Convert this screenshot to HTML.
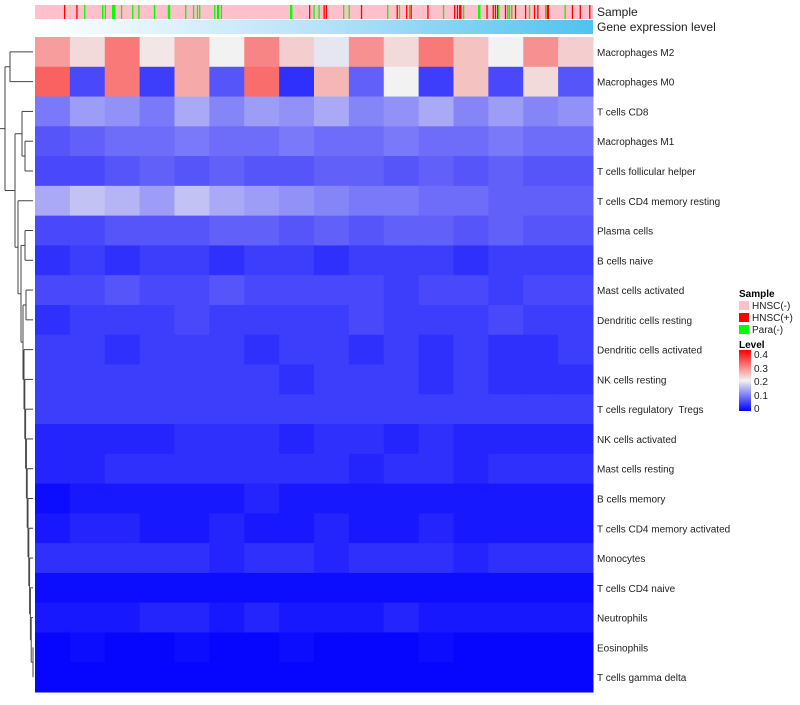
<!DOCTYPE html>
<html><head><meta charset="utf-8"><style>
body{margin:0;background:#fff;font-family:"Liberation Sans",sans-serif;}
svg text{font-family:"Liberation Sans",sans-serif;white-space:pre;}
</style></head><body>
<svg id="chart" width="800" height="700" xmlns="http://www.w3.org/2000/svg">
<defs>
<linearGradient id="geneGrad" x1="0" x2="1" y1="0" y2="0"><stop offset="0" stop-color="#ffffff"/><stop offset="0.5" stop-color="#b9e3f8"/><stop offset="1" stop-color="#4fc3f0"/></linearGradient>
<linearGradient id="levelGrad" x1="0" x2="0" y1="1" y2="0"><stop offset="0" stop-color="#0000ff"/><stop offset="0.5" stop-color="#f2f2f2"/><stop offset="1" stop-color="#ff0000"/></linearGradient>
</defs>
<g id="dendro"></g>
<g id="cells"></g>
<g id="sampleBar"></g>
<rect x="35" y="20" width="558" height="14" fill="url(#geneGrad)"/>
<text x="597" y="16" font-size="12" fill="#222">Sample</text>
<text x="597" y="31" font-size="12" fill="#222">Gene expression level</text>
<g id="labels"></g>
<g>
<text x="739" y="297" font-size="10" font-weight="bold" fill="#000">Sample</text>
<rect x="739" y="301" width="10" height="9" fill="#ffc0cb"/>
<text x="752" y="309" font-size="10" fill="#222">HNSC(-)</text>
<rect x="739" y="313" width="10" height="9" fill="#ff0000"/>
<text x="752" y="321" font-size="10" fill="#222">HNSC(+)</text>
<rect x="739" y="325" width="10" height="9" fill="#00ff00"/>
<text x="752" y="333" font-size="10" fill="#222">Para(-)</text>
<text x="739" y="348" font-size="10" font-weight="bold" fill="#000">Level</text>
<rect x="739" y="350" width="12" height="61" fill="url(#levelGrad)"/>
<text x="754" y="358" font-size="10" fill="#222">0.4</text>
<text x="754" y="372" font-size="10" fill="#222">0.3</text>
<text x="754" y="385" font-size="10" fill="#222">0.2</text>
<text x="754" y="399" font-size="10" fill="#222">0.1</text>
<text x="754" y="412" font-size="10" fill="#222">0</text>
</g>
</svg>
<script>
const rowNames=["Macrophages M2","Macrophages M0","T cells CD8","Macrophages M1","T cells follicular helper","T cells CD4 memory resting","Plasma cells","B cells naive","Mast cells activated","Dendritic cells resting","Dendritic cells activated","NK cells resting","T cells regulatory  Tregs","NK cells activated","Mast cells resting","B cells memory","T cells CD4 memory activated","Monocytes","T cells CD4 naive","Neutrophils","Eosinophils","T cells gamma delta"];
const rowValues=[
[0.27,0.22,0.30,0.21,0.26,0.20,0.29,0.23,0.19,0.28,0.22,0.30,0.24,0.20,0.28,0.23],
[0.32,0.06,0.30,0.05,0.26,0.07,0.31,0.04,0.25,0.08,0.20,0.05,0.24,0.06,0.22,0.07],
[0.10,0.13,0.12,0.10,0.14,0.11,0.13,0.12,0.14,0.11,0.12,0.14,0.11,0.13,0.11,0.12],
[0.07,0.08,0.09,0.09,0.10,0.09,0.09,0.10,0.09,0.09,0.10,0.09,0.09,0.10,0.09,0.09],
[0.06,0.06,0.07,0.08,0.07,0.08,0.07,0.07,0.08,0.08,0.07,0.08,0.07,0.08,0.07,0.07],
[0.14,0.16,0.15,0.13,0.16,0.14,0.13,0.12,0.11,0.10,0.10,0.09,0.09,0.08,0.08,0.08],
[0.06,0.06,0.07,0.07,0.07,0.08,0.08,0.07,0.08,0.07,0.08,0.08,0.07,0.08,0.07,0.07],
[0.04,0.05,0.04,0.05,0.05,0.04,0.05,0.05,0.04,0.05,0.05,0.05,0.04,0.05,0.05,0.05],
[0.06,0.06,0.07,0.06,0.06,0.07,0.06,0.06,0.06,0.06,0.05,0.06,0.06,0.05,0.06,0.06],
[0.04,0.05,0.05,0.05,0.06,0.05,0.05,0.05,0.05,0.06,0.05,0.05,0.05,0.06,0.05,0.05],
[0.05,0.05,0.04,0.05,0.05,0.05,0.04,0.05,0.05,0.04,0.05,0.04,0.05,0.04,0.04,0.05],
[0.05,0.05,0.05,0.05,0.05,0.05,0.05,0.04,0.05,0.05,0.05,0.04,0.05,0.04,0.04,0.04],
[0.05,0.05,0.05,0.05,0.05,0.05,0.05,0.05,0.05,0.05,0.05,0.05,0.05,0.05,0.05,0.05],
[0.03,0.03,0.03,0.03,0.04,0.04,0.04,0.03,0.04,0.04,0.03,0.04,0.03,0.03,0.03,0.03],
[0.03,0.03,0.04,0.04,0.04,0.04,0.04,0.04,0.04,0.03,0.04,0.04,0.03,0.04,0.04,0.04],
[0.01,0.02,0.02,0.02,0.02,0.02,0.03,0.02,0.02,0.02,0.02,0.02,0.02,0.02,0.02,0.02],
[0.02,0.03,0.03,0.02,0.02,0.03,0.02,0.02,0.03,0.02,0.02,0.03,0.02,0.02,0.02,0.02],
[0.04,0.04,0.04,0.04,0.04,0.03,0.04,0.04,0.03,0.04,0.04,0.04,0.03,0.04,0.04,0.04],
[0.01,0.01,0.01,0.01,0.01,0.01,0.01,0.01,0.01,0.01,0.01,0.01,0.01,0.01,0.01,0.01],
[0.02,0.02,0.02,0.03,0.03,0.02,0.03,0.02,0.02,0.02,0.03,0.02,0.02,0.02,0.02,0.02],
[0.005,0.01,0.005,0.005,0.01,0.005,0.005,0.01,0.005,0.005,0.005,0.01,0.005,0.005,0.005,0.005],
[0.005,0.005,0.005,0.005,0.005,0.005,0.005,0.005,0.005,0.005,0.005,0.005,0.005,0.005,0.005,0.005]
];
// sample annotation: positions as fraction of columns (0..1)
const hnscPosCols=[0.052,0.074,0.327,0.491,0.517,0.521,0.584,0.648,0.665,0.673,0.703,0.751,0.756,0.760,0.762,0.809,0.820,0.824,0.828,0.842,0.853,0.860,0.878,0.894,0.900,0.917,0.919,0.962,0.976,0.993];
const paraNegCols=[0.088,0.120,0.125,0.138,0.140,0.142,0.154,0.174,0.185,0.213,0.238,0.240,0.269,0.283,0.290,0.294,0.321,0.328,0.333,0.457,0.459,0.499,0.508,0.552,0.562,0.631,0.652,0.670,0.731,0.767,0.794,0.796,0.830,0.846,0.849,0.853,0.885,0.914,0.949];
const levelDomain=[0,0.2,0.4];

const NS="http://www.w3.org/2000/svg";
const X0=35,X1=593,Y0=37,Y1=692;
const rowH=(Y1-Y0)/rowNames.length;
function yRow(i){return Y0+i*rowH;}
function xCol(f){return X0+f*(X1-X0);}
function colorOf(v){
  const c=[[0,0,255],[242,242,242],[255,0,0]];
  let t,a,b;
  if(v<=levelDomain[1]){t=(v-levelDomain[0])/(levelDomain[1]-levelDomain[0]);a=c[0];b=c[1];}
  else{t=Math.min(1,(v-levelDomain[1])/(levelDomain[2]-levelDomain[1]));a=c[1];b=c[2];}
  t=Math.max(0,t);
  return `rgb(${Math.round(a[0]+(b[0]-a[0])*t)},${Math.round(a[1]+(b[1]-a[1])*t)},${Math.round(a[2]+(b[2]-a[2])*t)})`;
}
const cells=document.getElementById('cells');
rowValues.forEach((vals,i)=>{
  const w=(X1-X0)/vals.length;
  vals.forEach((v,j)=>{
    const r=document.createElementNS(NS,'rect');
    r.setAttribute('x',X0+j*w);r.setAttribute('y',yRow(i));
    r.setAttribute('width',w+0.5);r.setAttribute('height',rowH+0.5);
    r.setAttribute('fill',colorOf(v));
    
    
    cells.appendChild(r);
  });
  const t=document.createElementNS(NS,'text');
  t.setAttribute('x',597);t.setAttribute('y',yRow(i)+rowH/2+4);
  t.setAttribute('font-size','10');t.setAttribute('fill','#222');
  t.textContent=rowNames[i];
  
  
  document.getElementById('labels').appendChild(t);
});
const sb=document.getElementById('sampleBar');
const bg=document.createElementNS(NS,'rect');
bg.setAttribute('x',X0);bg.setAttribute('y',5);bg.setAttribute('width',X1-X0);bg.setAttribute('height',14);bg.setAttribute('fill','#ffc0cb');


sb.appendChild(bg);
function tick(f,col,name){
  const r=document.createElementNS(NS,'rect');
  r.setAttribute('x',xCol(f));r.setAttribute('y',5);r.setAttribute('width',1.3);r.setAttribute('height',14);r.setAttribute('fill',col);
  
  
  sb.appendChild(r);
}
hnscPosCols.forEach(f=>tick(f,'#ff0000','sample-hnsc-pos'));
paraNegCols.forEach(f=>tick(f,'#00ff00','sample-para-neg'));
let chain=[20,21,33];
for(let k=19;k>=10;k--){chain=[k,chain,24+(k-10)*0.8];}
const tree=[[0,1,10],[[2,[3,4,25],22],[5,[[6,7,25],[[8,9,26],chain,23],21],18],15],5];
const dg=document.getElementById('dendro');
function line(x1,y1,x2,y2){
  const l=document.createElementNS(NS,'line');
  l.setAttribute('x1',x1);l.setAttribute('y1',y1);l.setAttribute('x2',x2);l.setAttribute('y2',y2);
  l.setAttribute('stroke','#444');l.setAttribute('stroke-width','1');
  
  
  dg.appendChild(l);
}
function draw(n){
  if(typeof n==='number')return {x:X0-2,y:yRow(n)+rowH/2};
  const a=draw(n[0]),b=draw(n[1]),x=n[2];
  line(x,a.y,a.x,a.y);line(x,b.y,b.x,b.y);line(x,a.y,x,b.y);
  return {x:x,y:(a.y+b.y)/2};
}
const root=draw(tree);
line(0,root.y,root.x,root.y);
</script>
</body></html>
